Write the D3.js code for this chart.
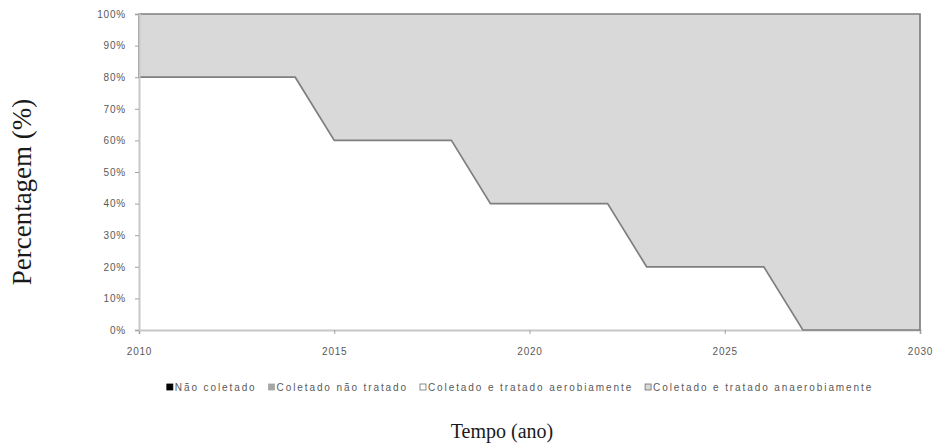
<!DOCTYPE html>
<html>
<head>
<meta charset="utf-8">
<script src="https://cdn.jsdelivr.net/npm/d3@7"></script>
<style>
  html, body { margin: 0; padding: 0; background: #fff; }
  svg { display: block; }
  .tick text { font-family: "Liberation Sans", Arial, sans-serif; font-size: 10px; fill: #595959; letter-spacing: 0.8px; }
</style>
</head>
<body>
<svg id="chart" width="939" height="447"></svg>
<script>
// Anos da projeção
const years = [2010, 2011, 2012, 2013, 2014, 2015, 2016, 2017, 2018, 2019, 2020,
               2021, 2022, 2023, 2024, 2025, 2026, 2027, 2028, 2029, 2030];

// Participação de cada destino dos resíduos (fração do total)
const naoColetado        = [0,0,0,0,0, 0,0,0,0, 0,0,0,0, 0,0,0,0, 0,0,0,0];
const coletadoNaoTratado = [0,0,0,0,0, 0,0,0,0, 0,0,0,0, 0,0,0,0, 0,0,0,0];
const tratadoAerobio     = [0.8,0.8,0.8,0.8,0.8, 0.6,0.6,0.6,0.6, 0.4,0.4,0.4,0.4, 0.2,0.2,0.2,0.2, 0,0,0,0];
const tratadoAnaerobio   = [0.2,0.2,0.2,0.2,0.2, 0.4,0.4,0.4,0.4, 0.6,0.6,0.6,0.6, 0.8,0.8,0.8,0.8, 1,1,1,1];

const seriesNames = ["Não coletado", "Coletado não tratado",
                     "Coletado e tratado aerobiamente", "Coletado e tratado anaerobiamente"];
const seriesColors = ["#000000", "#a6a6a6", "#ffffff", "#d9d9d9"];

const xTicks = [2010, 2015, 2020, 2025, 2030];
const yTicks = [0, 0.1, 0.2, 0.3, 0.4, 0.5, 0.6, 0.7, 0.8, 0.9, 1];

const table = years.map((y, i) => ({
  year: y,
  [seriesNames[0]]: naoColetado[i],
  [seriesNames[1]]: coletadoNaoTratado[i],
  [seriesNames[2]]: tratadoAerobio[i],
  [seriesNames[3]]: tratadoAnaerobio[i]
}));

const svg = d3.select("#chart");
const margin = { left: 139, right: 19, top: 14, bottom: 117 };
const W = 939, H = 447;

const x = d3.scaleLinear().domain([2010, 2030]).range([margin.left, W - margin.right]);
const y = d3.scaleLinear().domain([0, 1]).range([H - margin.bottom, margin.top]);

const stacked = d3.stack().keys(seriesNames)(table);

const area = d3.area()
  .x(d => x(d.data.year))
  .y0(d => y(d[0]))
  .y1(d => y(d[1]));

// Áreas empilhadas
svg.append("g").selectAll("path")
  .data(stacked)
  .join("path")
  .attr("d", area)
  .attr("fill", (d, i) => seriesColors[i]);

const axisColor = "#c8c8c8";

// Eixo horizontal
const xAxis = svg.append("g")
  .attr("transform", `translate(0,${H - margin.bottom})`)
  .call(d3.axisBottom(x).tickValues(xTicks).tickFormat(d3.format("d")).tickSize(4).tickPadding(12));

// Contorno da série anaeróbia
svg.append("path")
  .datum(stacked[3])
  .attr("d", area)
  .attr("fill", "none")
  .attr("stroke", "#7f7f7f")
  .attr("stroke-width", 1.7)
  .attr("stroke-linejoin", "miter");

// Eixo vertical
const yAxis = svg.append("g")
  .attr("transform", `translate(${margin.left},0)`)
  .call(d3.axisLeft(y).tickValues(yTicks).tickFormat(d3.format(".0%")).tickSize(4).tickPadding(9));

[yAxis, xAxis].forEach(g => {
  g.select(".domain").attr("stroke", axisColor).attr("stroke-width", 2);
  g.selectAll(".tick line").attr("stroke", "#a0a0a0");
});
xAxis.selectAll(".tick text").attr("dy", "0.9em");

// Legenda
const legend = svg.append("g").attr("transform", "translate(0,391)");
const legendFont = { family: "'Liberation Sans', Arial, sans-serif", size: 10, spacing: 1.9 };
const items = legend.selectAll("g").data(seriesNames).join("g");
items.append("rect")
  .attr("x", 0).attr("y", -7).attr("width", 6).attr("height", 6)
  .attr("fill", (d, i) => seriesColors[i])
  .attr("stroke", (d, i) => i < 2 ? seriesColors[i] : "#6f6f6f")
  .attr("stroke-width", 0.8);
items.append("text")
  .attr("x", 8).attr("y", 0)
  .attr("font-family", legendFont.family)
  .attr("font-size", legendFont.size)
  .attr("letter-spacing", legendFont.spacing)
  .attr("fill", "#595959")
  .text(d => d);
const gap = 12;
let offsets = [], cur = 0;
items.each(function () {
  offsets.push(cur);
  cur += 8 + this.querySelector("text").getComputedTextLength() + gap;
});
const totalW = cur - gap;
const startX = 520 - totalW / 2;
items.attr("transform", (d, i) => `translate(${startX + offsets[i]},0)`);

// Títulos dos eixos
svg.append("text")
  .attr("transform", "translate(31,192) rotate(-90)")
  .attr("text-anchor", "middle")
  .attr("font-family", "'Liberation Serif', 'Times New Roman', serif")
  .attr("font-size", 27)
  .attr("fill", "#1a1a1a")
  .text("Percentagem (%)");
svg.append("text")
  .attr("x", 502).attr("y", 438)
  .attr("text-anchor", "middle")
  .attr("font-family", "'Liberation Serif', 'Times New Roman', serif")
  .attr("font-size", 20)
  .attr("fill", "#1a1a1a")
  .text("Tempo (ano)");
</script>
</body>
</html>
